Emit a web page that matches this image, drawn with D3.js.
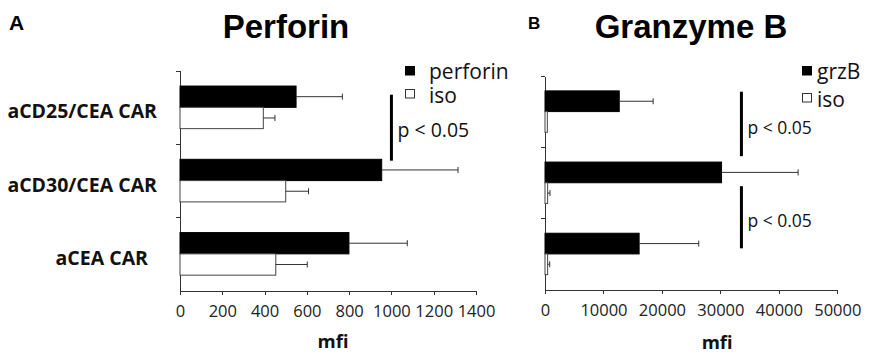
<!DOCTYPE html>
<html>
<head>
<meta charset="utf-8">
<script src="https://cdn.jsdelivr.net/npm/d3@7"></script>
<style>
  body { margin: 0; background: #fff; }
  svg { display: block; }
  .axis path, .axis line { stroke: #333; shape-rendering: crispEdges; }
  .axis text { font-family: 'Open Sans', sans-serif; font-size: 16.5px; fill: #222; }
</style>
</head>
<body>
<div id="vis"></div>
<script>
var categories = ['aCD25/CEA CAR', 'aCD30/CEA CAR', 'aCEA CAR'];

// panel A - perforin
var perforin = [549, 954, 799];
var perforin_err = [219, 361, 276];
var perforin_iso = [394, 500, 453];
var perforin_iso_err = [55, 108, 149];
var ticks_a = [0, 200, 400, 600, 800, 1000, 1200, 1400];

// panel B - granzyme B
var grzb = [12700, 30200, 16100];
var grzb_err = [5800, 13100, 10200];
var grzb_iso = [400, 450, 450];
var grzb_iso_err = [0, 400, 350];
var ticks_b = [0, 10000, 20000, 30000, 40000, 50000];

var width = 871,
    height = 354;

var svg = d3.select('#vis')
    .append('svg')
    .attr('width', width)
    .attr('height', height);

function draw_panel(p) {
    var g = svg.append('g');

    var x_scale = d3.scaleLinear()
        .domain([0, p.max])
        .range([p.left, p.right]);

    var band = d3.scaleBand()
        .domain(categories)
        .range([p.top, p.bottom])
        .padding(0);

    var sub = d3.scaleBand()
        .domain(['val', 'iso'])
        .range([0, band.bandwidth()])
        .paddingInner(0)
        .paddingOuter(0.72);

    // y axis: ticks at the category boundaries
    var y_lin = d3.scaleLinear()
        .domain([0, categories.length])
        .range([p.top, p.bottom]);
    g.append('g')
        .attr('class', 'axis')
        .attr('transform', 'translate(' + p.left + ',0)')
        .call(d3.axisLeft(y_lin).tickValues([0, 1, 2]).tickSize(4).tickSizeOuter(0).tickFormat(''));

    g.append('g')
        .attr('class', 'axis')
        .attr('transform', 'translate(0,' + p.bottom + ')')
        .call(d3.axisBottom(x_scale).tickValues(p.ticks).tickSize(4).tickSizeOuter(0)
            .tickPadding(11).tickFormat(d3.format('d')));

    var rows = categories.map(function(c, i) {
        return [
            { cat: c, key: 'val', v: p.values[i], e: p.errs[i] },
            { cat: c, key: 'iso', v: p.iso[i], e: p.iso_err[i] }
        ];
    }).flat();

    g.selectAll('.bar')
        .data(rows)
        .enter()
        .append('rect')
        .attr('class', 'bar')
        .attr('x', x_scale(0))
        .attr('y', function(d) { return band(d.cat) + sub(d.key); })
        .attr('width', function(d) { return x_scale(d.v) - x_scale(0); })
        .attr('height', sub.bandwidth())
        .attr('fill', function(d) { return d.key === 'val' ? '#000' : '#fff'; })
        .attr('stroke', function(d) { return d.key === 'val' ? '#000' : '#444'; })
        .attr('stroke-width', 1);

    var err = g.selectAll('.err')
        .data(rows.filter(function(d) { return d.e > 0; }))
        .enter()
        .append('g')
        .attr('class', 'err')
        .attr('stroke', '#333')
        .attr('stroke-width', 1);
    err.append('line')
        .attr('x1', function(d) { return x_scale(d.v); })
        .attr('x2', function(d) { return x_scale(d.v + d.e); })
        .attr('y1', function(d) { return band(d.cat) + sub(d.key) + sub.bandwidth() / 2; })
        .attr('y2', function(d) { return band(d.cat) + sub(d.key) + sub.bandwidth() / 2; });
    err.append('line')
        .attr('x1', function(d) { return x_scale(d.v + d.e); })
        .attr('x2', function(d) { return x_scale(d.v + d.e); })
        .attr('y1', function(d) { return band(d.cat) + sub(d.key) + sub.bandwidth() / 2 - 3; })
        .attr('y2', function(d) { return band(d.cat) + sub(d.key) + sub.bandwidth() / 2 + 3; });

    // axis title
    g.append('text')
        .attr('x', (x_scale(0) + x_scale(p.max)) / 2 - p.mfi_shift)
        .attr('y', p.mfi_y)
        .attr('text-anchor', 'middle')
        .style('font-family', 'Open Sans, sans-serif')
        .style('font-weight', 'bold')
        .style('font-size', '18.5px')
        .attr('fill', '#111')
        .text('mfi');

    // panel title and letter
    g.append('text')
        .attr('x', p.title_x)
        .attr('y', 38)
        .attr('text-anchor', 'middle')
        .style('font-family', 'Liberation Sans, Arial, sans-serif')
        .style('font-weight', 'bold')
        .style('font-size', '33px')
        .attr('fill', '#000')
        .text(p.title);
    g.append('text')
        .attr('x', p.letter_x)
        .attr('y', p.letter_y)
        .style('font-family', 'Liberation Sans, Arial, sans-serif')
        .style('font-weight', 'bold')
        .style('font-size', p.letter_size)
        .attr('fill', '#000')
        .text(p.letter);

    // legend
    var lg = g.append('g')
        .attr('transform', 'translate(' + p.legend_x + ',' + p.legend_y + ')');
    lg.append('rect')
        .attr('x', 0).attr('y', 0).attr('width', 10).attr('height', 9.5)
        .attr('fill', '#000');
    lg.append('rect')
        .attr('x', 0.5).attr('y', p.legend_gap - 0.5).attr('width', 9).attr('height', 8.5)
        .attr('fill', '#fff').attr('stroke', '#333');
    lg.selectAll('.lt')
        .data([p.series, 'iso'])
        .enter()
        .append('text')
        .attr('class', 'lt')
        .attr('x', p.legend_text_dx)
        .attr('y', function(d, i) { return 5 + i * p.legend_gap; })
        .attr('dominant-baseline', 'central')
        .style('font-family', 'Open Sans, sans-serif')
        .style('font-size', '21px')
        .attr('fill', '#111')
        .text(function(d) { return d; });

    // significance marks
    p.sig.forEach(function(s) {
        var y1 = band(s.from) + s.from_dy,
            y2 = band(s.to) + s.to_dy;
        g.append('line')
            .attr('x1', x_scale(s.at)).attr('x2', x_scale(s.at))
            .attr('y1', y1).attr('y2', y2)
            .attr('stroke', '#000')
            .attr('stroke-width', 3);
        g.append('text')
            .attr('x', x_scale(s.at) + 6)
            .attr('y', (y1 + y2) / 2 + s.text_dy)
            .attr('dominant-baseline', 'central')
            .style('font-family', 'Open Sans, sans-serif')
            .style('font-size', p.p_size)
            .attr('fill', '#111')
            .text('p < 0.05');
    });

    return band;
}

var band_a = draw_panel({
    left: 180, right: 476, top: 70.7, bottom: 290.5, max: 1400, ticks: ticks_a,
    values: perforin, errs: perforin_err, iso: perforin_iso, iso_err: perforin_iso_err,
    title: 'Perforin', title_x: 286, letter: 'A', letter_x: 9, letter_y: 30, letter_size: '21px',
    mfi_shift: -5, mfi_y: 348,
    series: 'perforin', legend_x: 405, legend_y: 66, legend_text_dx: 24, legend_gap: 24,
    p_size: '19.5px',
    sig: [{ at: 1000, from: 'aCD25/CEA CAR', from_dy: 24, to: 'aCD30/CEA CAR', to_dy: 16.7, text_dy: 2 }]
});

draw_panel({
    left: 545, right: 837.3, top: 76, bottom: 289.5, max: 50000, ticks: ticks_b,
    values: grzb, errs: grzb_err, iso: grzb_iso, iso_err: grzb_iso_err,
    title: 'Granzyme B', title_x: 691, letter: 'B', letter_x: 528, letter_y: 28.5, letter_size: '17px',
    mfi_shift: -26, mfi_y: 349,
    series: 'grzB', legend_x: 802, legend_y: 66, legend_text_dx: 15, legend_gap: 28,
    p_size: '17.5px',
    sig: [
        { at: 33600, from: 'aCD25/CEA CAR', from_dy: 15.7, to: 'aCD30/CEA CAR', to_dy: 9, text_dy: 3 },
        { at: 33600, from: 'aCD30/CEA CAR', from_dy: 39, to: 'aCEA CAR', to_dy: 30, text_dy: 3 }
    ]
});

// category labels (panel A only)
svg.selectAll('.cat')
    .data(categories)
    .enter()
    .append('text')
    .attr('class', 'cat')
    .attr('x', 157)
    .attr('dx', function(d) { return d === 'aCEA CAR' ? -9 : 0; })
    .attr('y', function(d) { return band_a(d) + band_a.bandwidth() / 2 + 3.5; })
    .attr('text-anchor', 'end')
    .attr('dominant-baseline', 'central')
    .style('font-family', 'Open Sans, sans-serif')
    .style('font-weight', 'bold')
    .style('font-size', '19.5px')
    .attr('fill', '#111')
    .text(function(d) { return d; });
</script>
</body>
</html>
